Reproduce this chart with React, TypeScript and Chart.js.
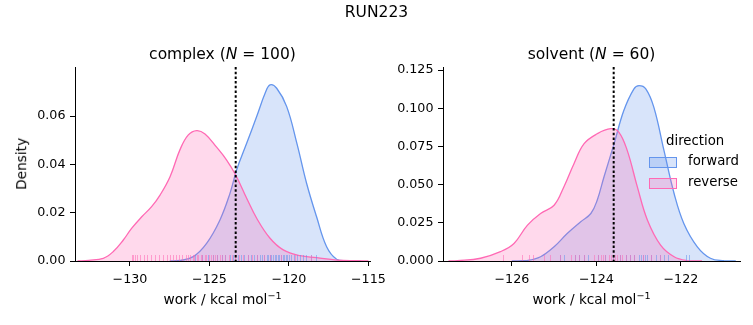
import React, { useEffect, useRef } from "react";
import { Chart, registerables } from "chart.js";

Chart.register(...registerables);

// ---------- data ----------
const suptitle = "RUN223";
const legendTitle = "direction";
const seriesNames = ["forward", "reverse"];

// complex panel
const complexXRange = [-133.46, -114.9];
const complexYRange = [0, 0.0803];
const complexXTicks = [-130, -125, -120, -115];
const complexYTicks = [0, 0.02, 0.04, 0.06];
const complexThreshold = -123.35;

const complexRevX = [-133.3, -132.6, -131.68, -131.05, -130.42, -129.9, -129.26, -128.64, -128.11, -127.48, -126.86, -126.33, -125.8, -125.28, -124.55, -123.92, -123.35, -122.66, -122.03, -121.19, -120.36, -119.3, -118.26, -117.0, -115.74, -115.0];
const complexRevY = [0, 0.0003, 0.0011, 0.0039, 0.0087, 0.0135, 0.0183, 0.0225, 0.0273, 0.0349, 0.046, 0.0522, 0.054, 0.0526, 0.0471, 0.0418, 0.0356, 0.026, 0.0177, 0.0094, 0.0046, 0.0022, 0.0014, 0.0004, 0.0001, 0];

const complexFwdX = [-127.5, -126.86, -126.02, -125.18, -124.34, -123.71, -123.29, -122.66, -122.03, -121.5, -121.19, -120.77, -120.14, -119.5, -118.89, -118.26, -117.63, -117.0, -116.4, -115.5];
const complexFwdY = [0, 0.0002, 0.0018, 0.0073, 0.017, 0.028, 0.0377, 0.0487, 0.0598, 0.0694, 0.0729, 0.0715, 0.0639, 0.0487, 0.0322, 0.0183, 0.0059, 0.0007, 0.0001, 0];

const complexRevRug = [-129.9, -129.8, -129.7, -129.55, -129.4, -129.1, -128.9, -128.7, -128.4, -128.2, -127.9, -127.7, -127.5, -127.3, -127.1, -126.9, -126.7, -126.5, -126.35, -126.2, -126.05, -125.95, -125.8, -125.7, -125.55, -125.45, -125.3, -125.2, -125.05, -124.9, -124.8, -124.65, -124.5, -124.35, -124.2, -124.0, -123.8, -123.6, -123.4, -123.15, -122.9, -122.6, -122.3, -122.0, -121.6, -121.2, -120.5, -119.6, -118.6];
const complexFwdRug = [-125.9, -125.5, -125.1, -124.8, -124.5, -124.2, -124.0, -123.7, -123.5, -123.2, -123.0, -122.8, -122.6, -122.4, -122.2, -122.0, -121.85, -121.7, -121.55, -121.4, -121.3, -121.2, -121.1, -121.0, -120.9, -120.8, -120.7, -120.6, -120.5, -120.4, -120.3, -120.2, -120.1, -120.0, -119.85, -119.7, -119.5, -119.3, -119.1, -118.9, -118.6, -118.3];

// solvent panel
const solventXRange = [-127.63, -120.6];
const solventYRange = [0, 0.127];
const solventXTicks = [-126, -124, -122];
const solventYTicks = [0, 0.025, 0.05, 0.075, 0.1, 0.125];
const solventThreshold = -123.59;

const solventRevX = [-127.5, -127.29, -126.74, -126.27, -125.95, -125.63, -125.32, -125.0, -124.77, -124.53, -124.29, -123.98, -123.66, -123.47, -123.27, -123.03, -122.79, -122.48, -122.16, -121.85, -121.5];
const solventRevY = [0, 0.0002, 0.0018, 0.0061, 0.0115, 0.0235, 0.0311, 0.0365, 0.0485, 0.0637, 0.0768, 0.0833, 0.0866, 0.0844, 0.0724, 0.0485, 0.0267, 0.0104, 0.0028, 0.0003, 0];

const solventFwdX = [-126.0, -125.63, -125.32, -125.0, -124.69, -124.37, -124.13, -123.98, -123.82, -123.58, -123.35, -123.11, -122.99, -122.83, -122.64, -122.4, -122.16, -121.93, -121.61, -121.3, -120.98, -120.7];
const solventFwdY = [0, 0.0004, 0.0028, 0.0093, 0.018, 0.0257, 0.0311, 0.0398, 0.055, 0.0768, 0.0985, 0.1127, 0.1148, 0.1127, 0.1007, 0.0724, 0.0442, 0.0246, 0.0093, 0.0018, 0.0002, 0];

const solventRevRug = [-126.22, -125.75, -125.6, -125.5, -125.25, -125.1, -124.85, -124.6, -124.5, -124.4, -124.3, -124.05, -123.95, -123.9, -123.85, -123.8, -123.7, -123.65, -123.6, -123.55, -123.5, -123.45, -123.4, -123.3, -123.2, -123.1, -122.9, -122.7, -122.5];
const solventFwdRug = [-124.85, -124.77, -124.5, -124.4, -124.3, -124.2, -123.95, -123.8, -123.6, -123.45, -123.3, -123.2, -123.1, -123.0, -122.95, -122.9, -122.85, -122.8, -122.7, -122.6, -122.5, -122.4, -122.3, -121.88, -121.81];

// ---------- styles ----------
const BLUE = "#6495ed";
const PINK = "#ff69b4";
const BLUE_FILL = "rgba(100,149,237,0.25)";
const PINK_FILL = "rgba(255,105,180,0.25)";
const BLUE_RUG = "rgba(100,149,237,0.55)";
const PINK_RUG = "rgba(255,105,180,0.55)";
const FONT = "'DejaVu Sans', sans-serif";

const zip = (xs: number[], ys: number[]) => xs.map((x, i) => ({ x, y: ys[i] }));
const fmtX = (v: number) => (v < 0 ? "\u2212" + Math.abs(v) : String(v));

type PanelSpec = {
  width: number;
  height: number;
  yAxisWidth: number;
  padRight: number;
  xRange: number[];
  yRange: number[];
  xTicks: number[];
  yTicks: number[];
  yDecimals: number;
  threshold: number;
  fwd: { x: number; y: number }[];
  rev: { x: number; y: number }[];
  fwdRug: number[];
  revRug: number[];
};

function buildConfig(p: PanelSpec): any {
  const overlay = {
    id: "overlay",
    afterDatasetsDraw(chart: any) {
      const ctx = chart.ctx;
      const xs = chart.scales.x;
      const area = chart.chartArea;
      ctx.save();
      ctx.lineWidth = 1;
      const drawRug = (vals: number[], color: string) => {
        ctx.strokeStyle = color;
        vals.forEach((v) => {
          const px = Math.round(xs.getPixelForValue(v)) + 0.5;
          ctx.beginPath();
          ctx.moveTo(px, area.bottom);
          ctx.lineTo(px, area.bottom - 6);
          ctx.stroke();
        });
      };
      drawRug(p.fwdRug, BLUE_RUG);
      drawRug(p.revRug, PINK_RUG);
      const tx = xs.getPixelForValue(p.threshold);
      ctx.strokeStyle = "#000";
      ctx.lineWidth = 2;
      ctx.setLineDash([2.5, 2.2]);
      ctx.beginPath();
      ctx.moveTo(tx, area.top);
      ctx.lineTo(tx, area.bottom);
      ctx.stroke();
      ctx.restore();
    },
  };
  const tickFont = { family: FONT, size: 12.7 };
  const lineStyle = {
    pointRadius: 0,
    borderWidth: 1.3,
    tension: 0.4,
    fill: "origin",
  };
  return {
    type: "line",
    data: {
      datasets: [
        { label: seriesNames[1], data: p.rev, borderColor: PINK, backgroundColor: PINK_FILL, ...lineStyle },
        { label: seriesNames[0], data: p.fwd, borderColor: BLUE, backgroundColor: BLUE_FILL, ...lineStyle },
      ],
    },
    options: {
      animation: false,
      responsive: false,
      maintainAspectRatio: false,
      events: [],
      layout: { padding: { left: 0, top: 67, right: p.padRight, bottom: 0 } },
      plugins: {
        legend: { display: false },
        tooltip: { enabled: false },
        title: { display: false },
      },
      scales: {
        x: {
          type: "linear",
          min: p.xRange[0],
          max: p.xRange[1],
          afterBuildTicks: (s: any) => {
            s.ticks = p.xTicks.map((v) => ({ value: v }));
          },
          afterFit: (s: any) => {
            s.height = p.height - 261;
            s.paddingLeft = 0;
            s.paddingRight = 0;
          },
          grid: { display: true, drawOnChartArea: false, drawTicks: true, tickLength: 5, color: "#000", tickColor: "#000" },
          border: { display: true, color: "#000", width: 1 },
          ticks: { font: tickFont, color: "#000", padding: 6, maxRotation: 0, autoSkip: false, callback: (v: any) => fmtX(Number(v)) },
        },
        y: {
          type: "linear",
          min: p.yRange[0],
          max: p.yRange[1],
          afterBuildTicks: (s: any) => {
            s.ticks = p.yTicks.map((v) => ({ value: v }));
          },
          afterFit: (s: any) => {
            s.width = p.yAxisWidth;
            s.paddingTop = 0;
            s.paddingBottom = 0;
          },
          grid: { display: true, drawOnChartArea: false, drawTicks: true, tickLength: 5, color: "#000", tickColor: "#000" },
          border: { display: true, color: "#000", width: 1 },
          ticks: { font: tickFont, color: "#000", padding: 4.5, autoSkip: false, callback: (v: any) => Number(v).toFixed(p.yDecimals) },
        },
      },
    },
    plugins: [overlay],
  };
}

function Panel({ left, spec }: { left: number; spec: PanelSpec }) {
  const ref = useRef<HTMLCanvasElement | null>(null);
  useEffect(() => {
    if (!ref.current) return;
    const chart = new Chart(ref.current, buildConfig(spec));
    return () => chart.destroy();
  }, []);
  return (
    <canvas
      ref={ref}
      width={spec.width}
      height={spec.height}
      style={{ position: "absolute", left, top: 0, width: spec.width, height: spec.height }}
    />
  );
}

const txt = (extra: React.CSSProperties): React.CSSProperties => ({
  position: "absolute",
  fontFamily: FONT,
  color: "#000",
  lineHeight: 1,
  whiteSpace: "nowrap",
  ...extra,
});

export default function App() {
  const complexSpec: PanelSpec = {
    width: 400,
    height: 325,
    yAxisWidth: 75,
    padRight: 30,
    xRange: complexXRange,
    yRange: complexYRange,
    xTicks: complexXTicks,
    yTicks: complexYTicks,
    yDecimals: 2,
    threshold: complexThreshold,
    fwd: zip(complexFwdX, complexFwdY),
    rev: zip(complexRevX, complexRevY),
    fwdRug: complexFwdRug,
    revRug: complexRevRug,
  };
  const solventSpec: PanelSpec = {
    width: 373,
    height: 325,
    yAxisWidth: 63,
    padRight: 13,
    xRange: solventXRange,
    yRange: solventYRange,
    xTicks: solventXTicks,
    yTicks: solventYTicks,
    yDecimals: 3,
    threshold: solventThreshold,
    fwd: zip(solventFwdX, solventFwdY),
    rev: zip(solventRevX, solventRevY),
    fwdRug: solventFwdRug,
    revRug: solventRevRug,
  };
  const xlabel = (
    <>
      work / kcal mol
      <sup style={{ fontSize: "0.7em", verticalAlign: "0.5em", lineHeight: 0 }}>{"\u22121"}</sup>
    </>
  );
  return (
    <div style={{ position: "absolute", left: 0, top: 0, width: 753, height: 325, background: "#fff", overflow: "hidden" }}>
      <Panel left={0} spec={complexSpec} />
      <Panel left={380} spec={solventSpec} />
      <div style={txt({ left: 0, width: 753, top: 5, textAlign: "center", fontSize: 15.5 })}>{suptitle}</div>
      <div style={txt({ left: 75, width: 295, top: 47, textAlign: "center", fontSize: 15.5 })}>
        complex (<i>N</i> = 100)
      </div>
      <div style={txt({ left: 443, width: 297, top: 47, textAlign: "center", fontSize: 15.5 })}>
        solvent (<i>N</i> = 60)
      </div>
      <div style={txt({ left: 75, width: 295, top: 292.5, textAlign: "center", fontSize: 13.7 })}>{xlabel}</div>
      <div style={txt({ left: 443, width: 297, top: 292.5, textAlign: "center", fontSize: 13.7 })}>{xlabel}</div>
      <div
        style={txt({
          left: 21.7 - 50,
          top: 164 - 7,
          width: 100,
          textAlign: "center",
          fontSize: 13.7,
          transform: "rotate(-90deg)",
        })}
      >
        Density
      </div>
      <div style={txt({ left: 666, top: 134.4, fontSize: 13.3 })}>{legendTitle}</div>
      <div style={{ position: "absolute", left: 649, top: 156.5, width: 28, height: 11, boxSizing: "border-box", border: `1px solid ${BLUE}`, background: BLUE_FILL }} />
      <div style={txt({ left: 688, top: 153.8, fontSize: 13.3 })}>{seriesNames[0]}</div>
      <div style={{ position: "absolute", left: 649, top: 178, width: 28, height: 11, boxSizing: "border-box", border: `1px solid ${PINK}`, background: PINK_FILL }} />
      <div style={txt({ left: 688, top: 175.4, fontSize: 13.3 })}>{seriesNames[1]}</div>
    </div>
  );
}
